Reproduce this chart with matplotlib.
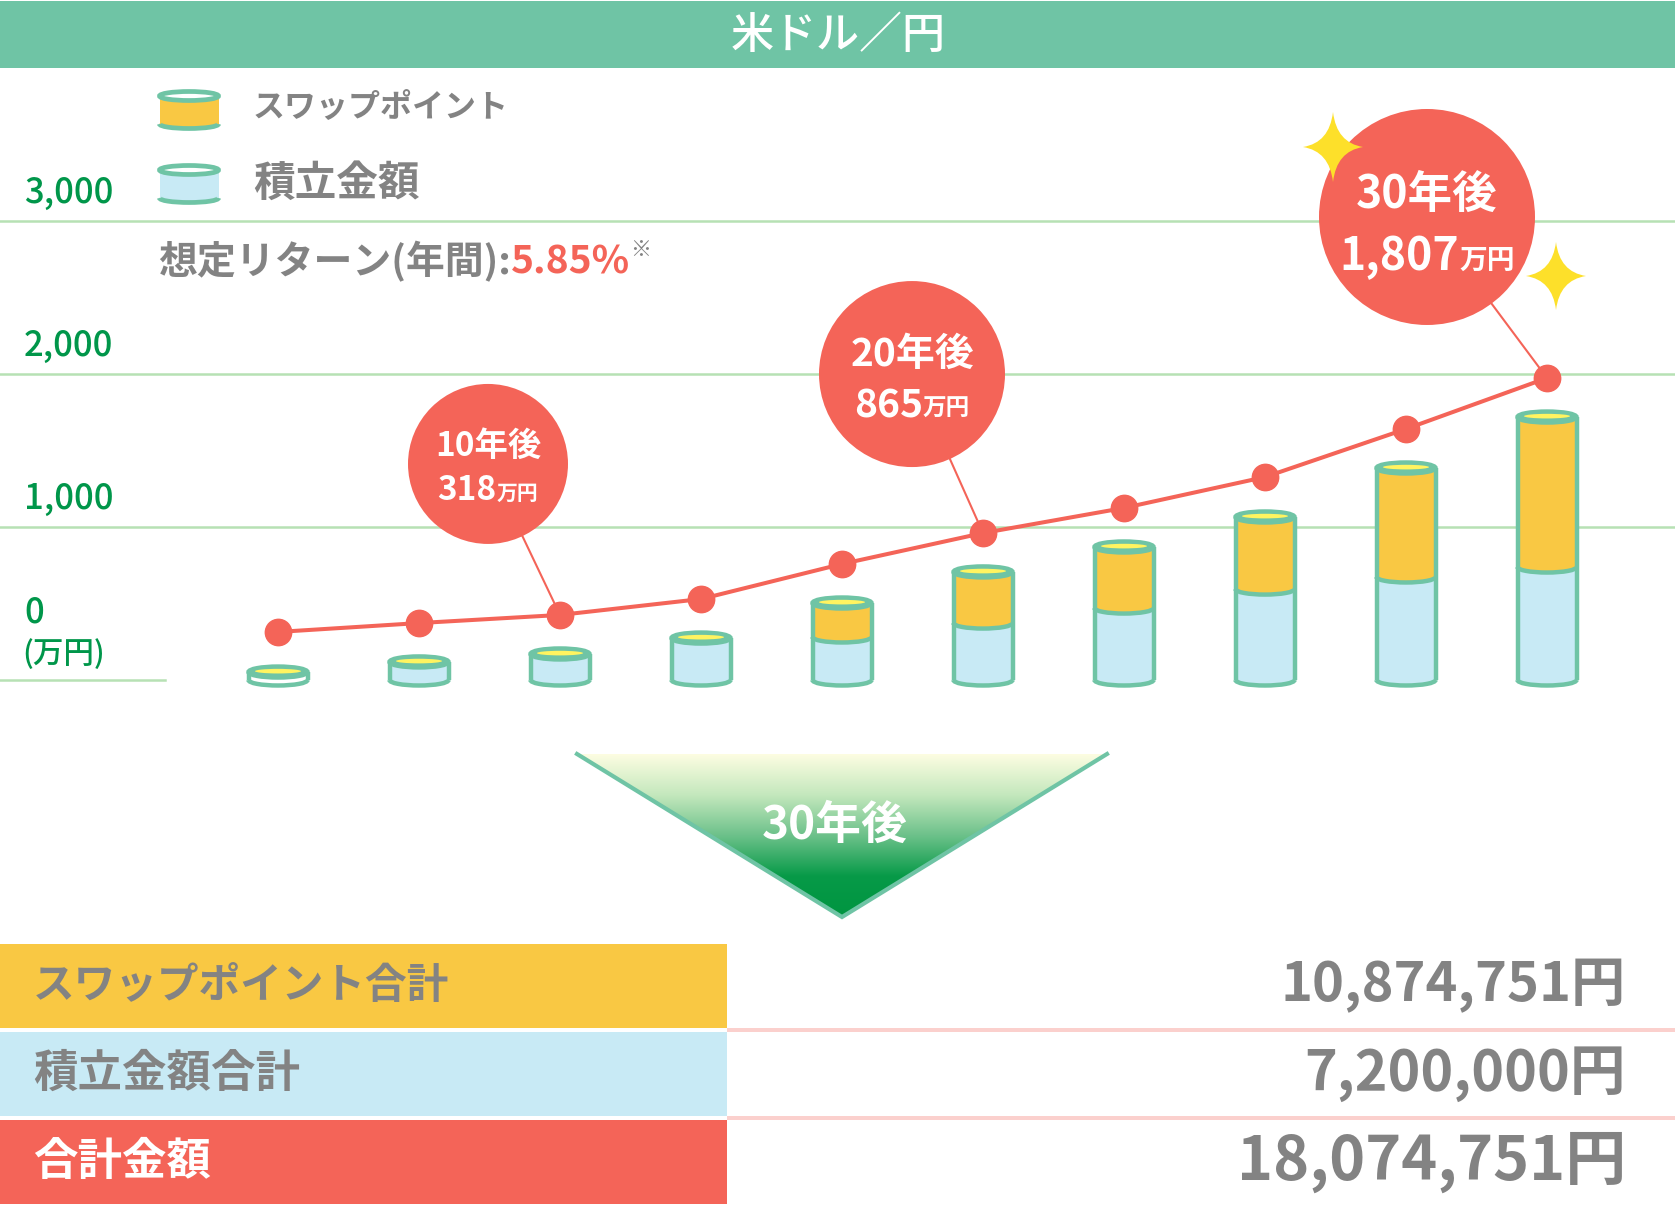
import numpy as np
import matplotlib
matplotlib.use('Agg')
import matplotlib.pyplot as plt
import matplotlib.transforms as mtransforms
from matplotlib.patches import Rectangle, Ellipse, Arc, Polygon, Circle, PathPatch
from matplotlib.path import Path
from matplotlib.colors import LinearSegmentedColormap

plt.rcParams['font.family'] = ['Noto Sans CJK JP', 'DejaVu Sans']

# ---- data (万円) ----
reserve = [52, 118, 170, 274, 281, 372, 470, 594, 673, 738]      # 積立金額
swap = [0, 0, 0, 0, 222, 334, 399, 471, 712, 980]                # スワップポイント
total_line = [314, 372, 425, 529, 758, 960, 1124, 1326, 1640, 1973]
y_ticks = [0, 1000, 2000, 3000]
y_tick_labels = ['0', '1,000', '2,000', '3,000']
y_unit = '(万円)'

callout_idx = [2, 5, 9]
callout_years = ['10年後', '20年後', '30年後']
callout_amounts = ['318', '865', '1,807']

title = '米ドル／円'
legend_labels = ['スワップポイント', '積立金額']
rate_label = '想定リターン(年間):'
rate_value = '5.85%'
arrow_label = '30年後'
total_labels = ['スワップポイント合計', '積立金額合計', '合計金額']
total_values = ['10,874,751円', '7,200,000円', '18,074,751円']

# ---- style ----
TEAL = '#6fc4a5'
GRID = '#b7e1b4'
GREEN_TXT = '#00964a'
RED = '#f46458'
BLUE = '#c8eaf5'
ORANGE = '#f9c843'
YELLOW = '#fff460'
GRAY = '#838383'
PINK = '#fbd0cd'
SPARK = '#fde02a'

W, H = 1675, 1205
fig = plt.figure(figsize=(W / 100, H / 100), dpi=100)

# chart axes: index on x, 万円 on y
x_first, x_last = 278, 1547
step = (x_last - x_first) / 9
base_px = 680
px_per = 0.15307

ax = fig.add_axes([0, 0, 1, 1])
ax.set_xlim(-x_first / step, (W - x_first) / step)
ax.set_ylim(-(H - base_px) / px_per, base_px / px_per)
ax.axis('off')

# grid lines
for v in y_ticks[1:]:
  ax.axhline(v, color=GRID, lw=1.8, zorder=1)
ax.axhline(0, xmin=0, xmax=165 / W, color=GRID, lw=1.8, zorder=1)

trans = mtransforms.blended_transform_factory(ax.transAxes, ax.transData)
for v, lab in zip(y_ticks, y_tick_labels):
  off = 68 if v == 0 else 28
  ax.text(24 / W, v, lab, transform=mtransforms.offset_copy(trans, fig=fig, y=off, units='dots'),
          va='center', ha='left', color=GREEN_TXT, fontsize=25, fontweight='medium')
ax.text(22 / W, 0, y_unit, transform=mtransforms.offset_copy(trans, fig=fig, y=26, units='dots'),
        va='center', ha='left', color=GREEN_TXT, fontsize=22, fontweight='medium')

# cylinders
bw = 59 / step
eh = 11 / px_per
lw = 3.2

def cylinder(x, segs):
  for lo, hi, c in segs:
    ax.add_patch(Ellipse((x, lo), bw, eh, facecolor=c, edgecolor='none', zorder=3))
    ax.add_patch(Rectangle((x - bw / 2, lo), bw, hi - lo, facecolor=c, edgecolor='none', zorder=3))
    ax.add_patch(Arc((x, lo), bw, eh, theta1=180, theta2=360, color=TEAL, lw=lw, zorder=4))
  base, top = segs[0][0], segs[-1][1]
  for sx in (x - bw / 2, x + bw / 2):
    ax.plot([sx, sx], [base, top], color=TEAL, lw=lw, zorder=4, solid_capstyle='butt')
  ax.add_patch(Ellipse((x, top), bw, eh, facecolor=TEAL, edgecolor=TEAL, lw=lw, zorder=5))
  ax.add_patch(Ellipse((x, top + eh * 0.08), bw * 0.78, eh * 0.42, facecolor=YELLOW,
                       edgecolor='none', zorder=6))

for i, (r, s) in enumerate(zip(reserve, swap)):
  segs = [(0, r, 'white' if i == 0 else BLUE)]
  if s > 0:
    segs.append((r, r + s, ORANGE))
  cylinder(i, segs)

# total line
ax.plot(range(len(total_line)), total_line, color=RED, lw=2.9, marker='o', ms=19,
        zorder=7, solid_capstyle='round')

# callouts (pixel offsets from the point, radius, font sizes)
callout_geom = [(-72, 151, 80, 24, 15, 18, 27), (-71, 159, 93, 28, 17, 20, 32),
                (-120, 161, 108, 32, 20, 22, 40)]
for i, yr, amt, (dx, dy, rad, fs, fs2, o1, o2) in zip(callout_idx, callout_years, callout_amounts, callout_geom):
  v = total_line[i]
  anchor = mtransforms.ScaledTranslation(i, v, ax.transData)
  ax.add_patch(Circle((dx, dy), rad, transform=anchor, facecolor=RED, edgecolor='none', zorder=8))
  ax.annotate('', xy=(i, v), xytext=(dx, dy), textcoords='offset pixels',
              arrowprops=dict(arrowstyle='-', color=RED, lw=1.5, shrinkA=0, shrinkB=0), zorder=6)
  ax.annotate(yr, xy=(i, v), xytext=(dx, dy + o1), textcoords='offset pixels', ha='center',
              va='center', color='white', fontsize=fs, fontweight='bold', zorder=9)
  shift = fs2 * 100 / 72
  t = ax.annotate(amt, xy=(i, v), xytext=(dx - shift, dy - o2), textcoords='offset pixels',
                  ha='center', va='center', color='white', fontsize=fs, fontweight='bold', zorder=9)
  ax.annotate('万円', xy=(1, 0.12), xycoords=t, ha='left', va='bottom', color='white',
              fontsize=fs2, fontweight='bold', zorder=9)

# ---- decorations in pixel space ----
deco = fig.add_axes([0, 0, 1, 1])
deco.set_facecolor('none')
deco.axis('off')

# header
deco.add_patch(Rectangle((0, 1), W, 67, facecolor=TEAL, edgecolor='none'))
deco.text(838, 35, title, color='white', fontsize=31, fontweight='medium', ha='center', va='center')

# legend
def legend_icon(cx, top_y, bot_y, face):
  w, h = 59, 9
  deco.add_patch(Ellipse((cx, bot_y), w, h, facecolor=face, edgecolor='none'))
  deco.add_patch(Rectangle((cx - w / 2, top_y), w, bot_y - top_y, facecolor=face, edgecolor='none'))
  deco.add_patch(Arc((cx, bot_y), w, h, theta1=0, theta2=180, color=TEAL, lw=3.4))
  deco.add_patch(Ellipse((cx, top_y), w, h, facecolor='white', edgecolor=TEAL, lw=3.4))

legend_icon(189, 96, 124, ORANGE)
legend_icon(189, 170, 198, BLUE)
deco.text(253, 108, legend_labels[0], color=GRAY, fontsize=23, fontweight='bold', va='center')
deco.text(253, 184, legend_labels[1], color=GRAY, fontsize=30, fontweight='bold', va='center')

t1 = deco.text(158, 262, rate_label, color=GRAY, fontsize=28, fontweight='bold', va='center')
t2 = deco.annotate(rate_value, xy=(1, 0.5), xycoords=t1, color=RED, fontsize=28,
                   fontweight='bold', va='center', ha='left')
deco.annotate('※', xy=(1, 0.8), xycoords=t2, color=GRAY, fontsize=15, va='center', ha='left')

# sparkles
def sparkle(cx, cy, hw, hh, k=0.12):
  verts = [(cx, cy - hh), (cx + hw * k, cy - hh * k), (cx + hw, cy), (cx + hw * k, cy + hh * k),
           (cx, cy + hh), (cx - hw * k, cy + hh * k), (cx - hw, cy), (cx - hw * k, cy - hh * k),
           (cx, cy - hh)]
  codes = [Path.MOVETO] + [Path.CURVE3] * 8
  deco.add_patch(PathPatch(Path(verts, codes), facecolor=SPARK, edgecolor='none', zorder=10))

sparkle(1333, 147, 30, 35)
sparkle(1556, 276, 30, 34)

# arrow triangle with gradient
tri = Polygon([(577, 754), (1107, 754), (842, 917)], closed=True, facecolor='none', edgecolor='none')
deco.add_patch(tri)
cmap = LinearSegmentedColormap.from_list('g', ['#fdfde2', '#c4e8bd', '#6cc18a', '#079a48', '#009540'])
grad = np.linspace(0, 1, 256).reshape(-1, 1)
im = deco.imshow(grad, cmap=cmap, extent=(577, 1107, 917, 754), aspect='auto', zorder=2)
im.set_clip_path(tri)
deco.plot([577, 842, 1107], [754, 917, 754], color=TEAL, lw=3, zorder=3, solid_joinstyle='miter')
deco.text(835, 826, arrow_label, color='white', fontsize=33, fontweight='bold', ha='center',
          va='center', zorder=4)

# totals table
row_tops = [944, 1032, 1120]
row_h = 84
row_colors = [ORANGE, BLUE, RED]
label_colors = [GRAY, GRAY, 'white']
label_sizes = [30, 32, 32]
value_sizes = [39, 40, 44]
for top, c, lab, lc, ls, val, vs in zip(row_tops, row_colors, total_labels, label_colors, label_sizes,
                                        total_values, value_sizes):
  deco.add_patch(Rectangle((0, top), 727, row_h, facecolor=c, edgecolor='none'))
  deco.text(33, top + row_h / 2, lab, color=lc, fontsize=ls, fontweight='bold', va='center', ha='left')
  deco.text(1626, top + row_h / 2, val, color=GRAY, fontsize=vs, fontweight='bold', va='center', ha='right')
for y in (1028, 1116):
  deco.add_patch(Rectangle((727, y), W - 727, 4, facecolor=PINK, edgecolor='none'))

deco.set_xlim(0, W)
deco.set_ylim(H, 0)

fig.savefig('out.png', dpi=100)
